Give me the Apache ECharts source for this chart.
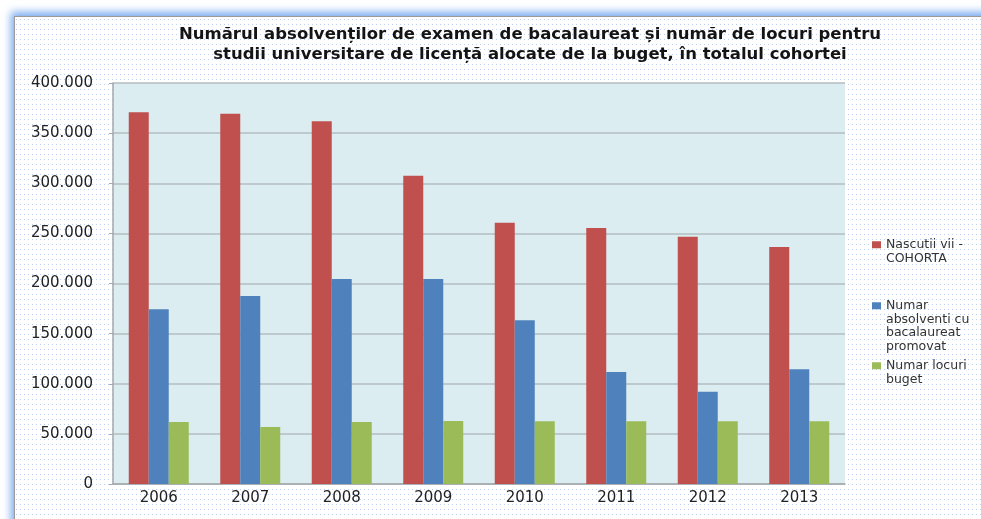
<!DOCTYPE html>
<html>
<head>
<meta charset="utf-8">
<script src="https://cdn.jsdelivr.net/npm/echarts@6/dist/echarts.min.js"></script>
<style>
  html, body { margin: 0; padding: 0; background: #fff; }
  #frame {
    position: absolute; left: 14px; top: 16px; width: 1000px; height: 540px;
    border: 1px solid #9a9a9a;
    box-shadow: -3px -4px 8px rgba(90, 150, 235, 0.8);
    background-color: #fff;
  }
  #main { position: absolute; left: 0; top: 0; width: 981px; height: 519px; }
</style>
</head>
<body>
<div id="frame"></div>
<div id="main"></div>
<script>
const years = ['2006', '2007', '2008', '2009', '2010', '2011', '2012', '2013']
const nascuti = [370800, 369400, 361800, 307500, 260600, 255400, 246700, 236400]
const absolventi = [174300, 187500, 204500, 204500, 163300, 111700, 92100, 114400]
const locuriBuget = [61900, 56900, 61900, 62800, 62500, 62500, 62500, 62500]
const seriesNames = ['Nascutii vii -\nCOHORTA', 'Numar\nabsolventi cu\nbacalaureat\npromovat', 'Numar locuri\nbuget']
const colors = ['#c0504d', '#4f81bd', '#9bbb59']

// dotted fill of the chart frame
const dot = document.createElement('canvas')
dot.width = 4
dot.height = 5
const dctx = dot.getContext('2d')
dctx.fillStyle = '#bccfed'
dctx.fillRect(1, 2, 1, 1)
document.getElementById('frame').style.backgroundImage = 'url(' + dot.toDataURL() + ')'

function fmt (v) {
  return String(v).replace(/\B(?=(\d{3})+(?!\d))/g, '.')
}

const LH = 13.5
// one legend per item so the gaps can differ; icon sits on the first text line
function legendFor (i, top) {
  const lines = seriesNames[i].split('\n').length
  const h = lines * LH
  const y0 = LH / 2 - 3.5
  return {
    data: [seriesNames[i]],
    orient: 'vertical',
    left: 872,
    top: top,
    padding: 0,
    itemWidth: 9,
    itemHeight: h,
    itemGap: 0,
    icon: 'path://M0,0L9,0M0,' + y0 + 'h9v7h-9zM0,' + h + 'L9,' + h,
    itemStyle: { borderWidth: 0 },
    selectedMode: false,
    textStyle: {
      fontFamily: 'DejaVu Sans',
      fontSize: 12.5,
      color: '#333',
      lineHeight: LH
    }
  }
}

const myChart = echarts.init(document.getElementById('main'))
const option = {
  animation: false,
  backgroundColor: 'transparent',
  title: {
    text: 'Numărul absolvenților de examen de bacalaureat și număr de locuri pentru\nstudii universitare de licență alocate de la buget, în totalul cohortei',
    left: 530,
    top: 25,
    textAlign: 'center',
    padding: 0,
    textStyle: {
      fontFamily: 'DejaVu Sans',
      fontWeight: 'bold',
      fontSize: 16.5,
      lineHeight: 20,
      color: '#141414'
    }
  },
  legend: [legendFor(0, 238), legendFor(1, 299), legendFor(2, 359)],
  grid: {
    left: 113,
    right: 136,
    top: 83,
    bottom: 35,
    show: true,
    backgroundColor: '#dcedf2',
    borderWidth: 0
  },
  xAxis: {
    type: 'category',
    data: years,
    axisLine: { lineStyle: { color: '#a3a9ad', width: 1.5 } },
    axisTick: { show: false },
    axisLabel: {
      fontFamily: 'DejaVu Sans',
      fontSize: 15,
      color: '#222',
      margin: 7
    }
  },
  yAxis: {
    type: 'value',
    min: 0,
    max: 400000,
    interval: 50000,
    axisLine: { show: true, lineStyle: { color: '#a3a9ad', width: 1.5 } },
    axisTick: { show: true, length: 4, lineStyle: { color: '#a3a9ad' } },
    splitLine: { lineStyle: { color: '#b3bdc1', width: 1.5 } },
    axisLabel: {
      fontFamily: 'DejaVu Sans',
      fontSize: 15,
      color: '#222',
      margin: 20,
      formatter: fmt
    }
  },
  series: [
    { name: seriesNames[0], type: 'bar', data: nascuti, barWidth: 20, barGap: '0%', itemStyle: { color: colors[0] } },
    { name: seriesNames[1], type: 'bar', data: absolventi, barWidth: 20, barGap: '0%', itemStyle: { color: colors[1] } },
    { name: seriesNames[2], type: 'bar', data: locuriBuget, barWidth: 20, barGap: '0%', itemStyle: { color: colors[2] } }
  ]
}
myChart.setOption(option)
</script>
</body>
</html>
